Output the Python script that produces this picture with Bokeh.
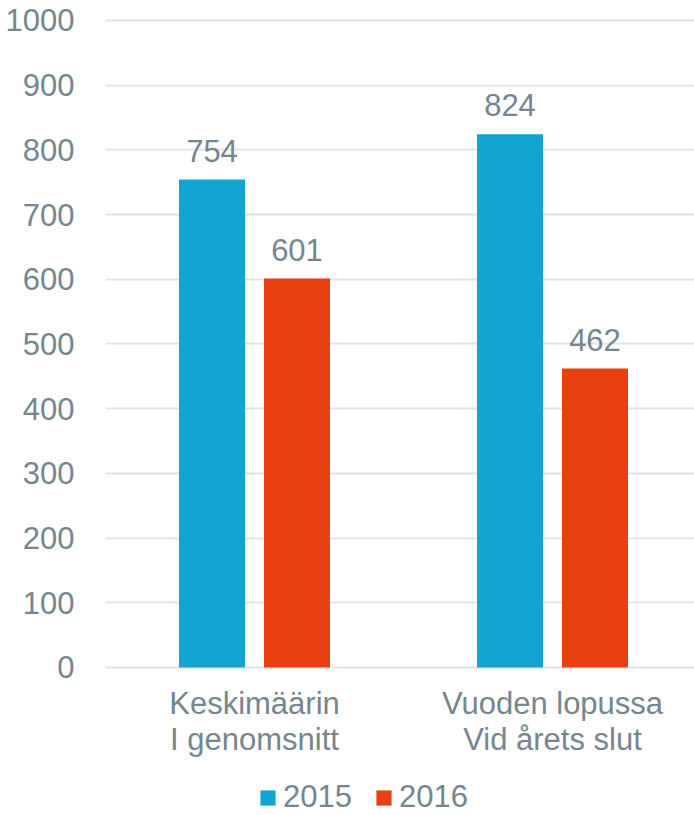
from bokeh.plotting import figure
from bokeh.models import (ColumnDataSource, Range1d, FixedTicker, Legend, LegendItem,
                          LabelSet)
from bokeh.core.properties import value
from bokeh.embed import file_html
from bokeh.resources import INLINE

categories = ["Keskimäärin\nI genomsnitt", "Vuoden lopussa\nVid årets slut"]
series_names = ["2015", "2016"]
values_2015 = [754, 824]
values_2016 = [601, 462]
y_ticks = [0, 100, 200, 300, 400, 500, 600, 700, 800, 900, 1000]

BLUE = "#12A5D4"
RED = "#E84011"
TXT = "#76868F"
FONT = "Liberation Sans"

W = 694
H = 815
LEFT = 105
TOP = 18
PX_PER_UNIT = 0.647
YMAX = 1003
YMIN = YMAX - (H - TOP) / PX_PER_UNIT

xc = [i + 0.5 for i in range(len(categories))]
off = 0.1426
bw = 0.2215
XMAX = (W - LEFT) / 298.0

src15 = ColumnDataSource(dict(x=[c - off for c in xc], top=values_2015,
                              lab=[str(v) for v in values_2015]))
src16 = ColumnDataSource(dict(x=[c + off for c in xc], top=values_2016,
                              lab=[str(v) for v in values_2016]))

p = figure(width=W, height=H, output_backend="svg", toolbar_location=None,
           x_range=Range1d(0.0, XMAX), y_range=Range1d(YMIN, YMAX),
           min_border_left=LEFT, min_border_right=0, min_border_top=TOP,
           min_border_bottom=0)
p.outline_line_color = None
p.xaxis.visible = False

r15 = p.vbar(x="x", top="top", width=bw, source=src15, fill_color=BLUE, line_color=None)
r16 = p.vbar(x="x", top="top", width=bw, source=src16, fill_color=RED, line_color=None)

for s in (src15, src16):
    p.add_layout(LabelSet(x="x", y="top", text="lab", source=s, text_align="center",
                          text_baseline="alphabetic", y_offset=18,
                          text_font=value(FONT), text_font_size=value("31px"),
                          text_color=TXT))

line1 = [c.split("\n")[0] for c in categories]
line2 = [c.split("\n")[1] for c in categories]
cat_src = ColumnDataSource(dict(x=xc, l1=line1, l2=line2))
for col, dy in (("l1", 36), ("l2", 72)):
    p.text(x="x", y=0, text=col, source=cat_src, y_offset=dy,
           text_align="center", text_baseline="alphabetic",
           text_font=value(FONT), text_font_size=value("31px"), text_color=TXT)

p.xgrid.grid_line_color = None
p.ygrid.grid_line_color = "#E1E4E7"
p.ygrid.grid_line_width = 2
p.ygrid.ticker = FixedTicker(ticks=y_ticks)

p.yaxis.ticker = FixedTicker(ticks=y_ticks)
p.yaxis.axis_line_color = None
p.yaxis.major_tick_line_color = None
p.yaxis.minor_tick_line_color = None
p.yaxis.major_label_standoff = 25
p.yaxis.major_label_text_font = FONT
p.yaxis.major_label_text_font_size = "31px"
p.yaxis.major_label_text_color = TXT

legend = Legend(items=[LegendItem(label=series_names[0], renderers=[r15]),
                       LegendItem(label=series_names[1], renderers=[r16])],
                orientation="horizontal", location=(153, 0),
                glyph_width=19, glyph_height=19, label_standoff=6, spacing=22,
                padding=0, margin=0, border_line_color=None,
                background_fill_alpha=0,
                label_text_font=FONT, label_text_font_size="31px",
                label_text_color=TXT)
p.add_layout(legend, "center")

open("out.html", "w").write(file_html(p, INLINE))
